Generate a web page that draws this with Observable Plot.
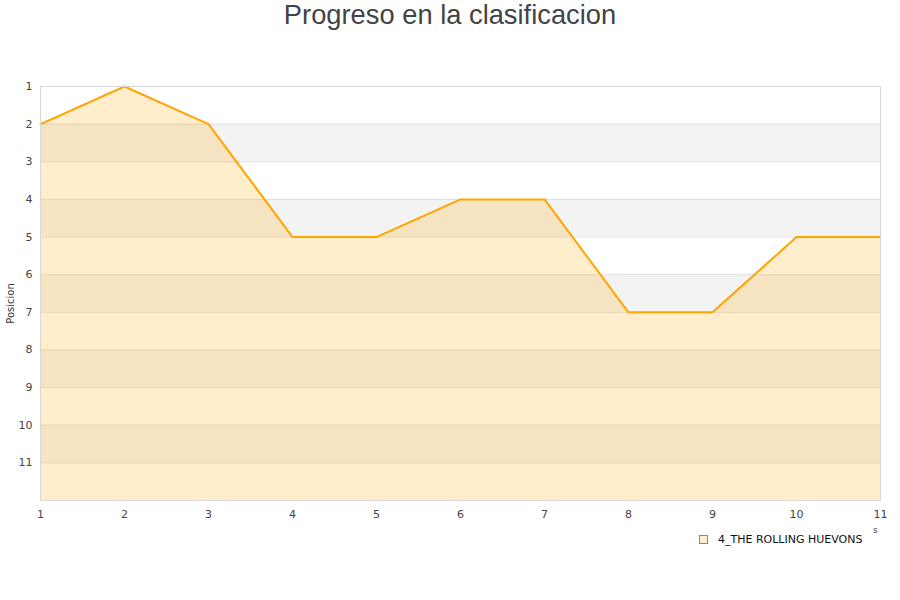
<!DOCTYPE html>
<html>
<head>
<meta charset="utf-8">
<script src="https://cdn.jsdelivr.net/npm/d3@7"></script>
<script src="https://cdn.jsdelivr.net/npm/@observablehq/plot@0.6"></script>
<style>
  body { margin: 0; background: #fff; }
  #wrap { position: relative; width: 900px; height: 600px; overflow: hidden; }
  #title { position: absolute; left: 0; top: -1px; width: 900px; text-align: center;
    font-family: "Liberation Sans", Arial, sans-serif; font-size: 27.3px; color: #444; line-height: 32px; }
  #chart { position: absolute; left: 0; top: 56px; }
  #legend { position: absolute; left: 699px; top: 533px; font-family: "DejaVu Sans", sans-serif;
    font-size: 11px; color: #111; display: flex; align-items: center; }
  #legend .sw { width: 7px; height: 7px; border: 1px solid #888; background: #ffedcc; margin-right: 10px; }
  #xs { position: absolute; left: 873px; top: 525px; font-family: "DejaVu Sans", sans-serif; font-size: 9px; color: #444; }
</style>
</head>
<body>
<div id="wrap">
  <div id="title">Progreso en la clasificacion</div>
  <div id="chart"></div>
  <div id="xs">s</div>
  <div id="legend"><div class="sw"></div><span>4_THE ROLLING HUEVONS</span></div>
</div>
<script>
const jornadas = [1, 2, 3, 4, 5, 6, 7, 8, 9, 10, 11];
const posiciones = [2, 1, 2, 5, 5, 4, 4, 7, 7, 5, 5];
const equipo = "4_THE ROLLING HUEVONS";
const yTicks = [1, 2, 3, 4, 5, 6, 7, 8, 9, 10, 11];
const bandasGrises = [2, 4, 6, 8, 10];
const yMin = 1, yMax = 12;

const data = jornadas.map((j, i) => ({jornada: j, pos: posiciones[i], equipo}));
const bands = bandasGrises.map(b => ({y1: b, y2: b + 1}));

const plot = Plot.plot({
  width: 900,
  height: 474,
  marginTop: 30,
  marginBottom: 30,
  marginLeft: 40,
  marginRight: 20,
  style: {fontFamily: "DejaVu Sans, sans-serif", fontSize: "11px", color: "#444", background: "transparent"},
  x: {domain: [1, 11], ticks: jornadas, tickSize: 0, tickFormat: d => String(d), label: null},
  y: {domain: [yMin, yMax], reverse: true, ticks: yTicks, tickSize: 0, tickFormat: d => String(d), label: null},
  marks: [
    Plot.rect(bands, {x1: 1, x2: 11, y1: "y1", y2: "y2", fill: "#f3f3f3"}),
    Plot.ruleY(yTicks, {stroke: "#e0e0e0", strokeWidth: 1}),
    Plot.areaY(data, {x: "jornada", y1: yMax, y2: "pos", fill: "#ffa500", fillOpacity: 0.2}),
    Plot.line(data, {x: "jornada", y: "pos", stroke: "#ffa500", strokeWidth: 2}),
    Plot.frame({stroke: "#d8d8d8"}),
    Plot.axisY({ticks: yTicks, tickSize: 0, tickPadding: 8, label: null}),
    Plot.axisX({ticks: jornadas, tickSize: 0, tickPadding: 10, label: null}),
    Plot.text(["Posicion"], {frameAnchor: "left", dx: -30, dy: 10, rotate: -90, textAnchor: "middle", fontSize: 10, fill: "#333"})
  ]
});
document.getElementById("chart").appendChild(plot);
</script>
</body>
</html>
